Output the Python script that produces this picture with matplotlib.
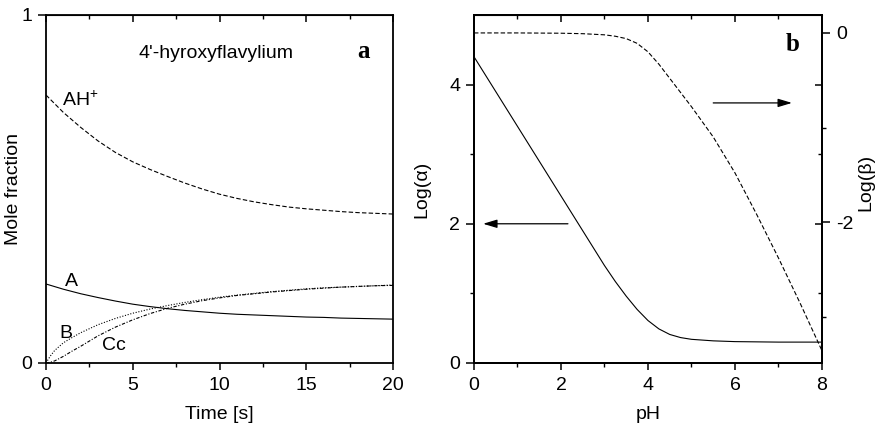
import matplotlib
matplotlib.use('Agg')
import matplotlib.pyplot as plt

plt.rcParams['font.family'] = ['Liberation Sans', 'DejaVu Sans']
plt.rcParams['mathtext.default'] = 'regular'
plt.rcParams['axes.unicode_minus'] = False
plt.rcParams['font.size'] = 14

# panel a: mole fractions vs time
t = [0, 1, 2, 3, 4, 5, 6, 7, 8, 9, 10, 11, 12, 13, 14, 15, 16, 17, 18, 19, 20]
AH = [0.770, 0.720, 0.677, 0.638, 0.605, 0.578, 0.556, 0.536, 0.517, 0.500,
      0.485, 0.473, 0.463, 0.455, 0.448, 0.443, 0.439, 0.435, 0.432, 0.430, 0.428]
A = [0.227, 0.212, 0.199, 0.188, 0.178, 0.169, 0.162, 0.156, 0.151, 0.147,
     0.143, 0.140, 0.138, 0.136, 0.134, 0.132, 0.131, 0.129, 0.128, 0.127, 0.126]
tBC = [0, 0.25, 0.5, 1, 1.5, 2, 3, 4, 5, 6, 7, 8, 9, 10, 11, 12, 13, 14, 15,
       16, 17, 18, 19, 20]
B = [0, 0.020, 0.036, 0.058, 0.073, 0.087, 0.110, 0.128, 0.143, 0.155, 0.165,
     0.174, 0.182, 0.189, 0.195, 0.200, 0.205, 0.209, 0.213, 0.216, 0.218,
     0.220, 0.222, 0.224]
Cc = [0, 0.002, 0.006, 0.019, 0.034, 0.048, 0.078, 0.103, 0.124, 0.142, 0.157,
      0.169, 0.179, 0.187, 0.194, 0.199, 0.204, 0.208, 0.212, 0.215, 0.218,
      0.220, 0.222, 0.223]

# panel b: log(alpha) and log(beta) vs pH
pHa = [0, 0.5, 1, 1.5, 2, 2.5, 2.75, 3, 3.25, 3.5, 3.75, 4, 4.25, 4.5, 4.75,
       5, 5.5, 6, 7, 8]
logAlpha = [4.40, 3.90, 3.40, 2.90, 2.40, 1.90, 1.65, 1.40, 1.17, 0.96, 0.77,
            0.61, 0.49, 0.41, 0.365, 0.34, 0.318, 0.307, 0.30, 0.30]
pHb = [0, 1, 2, 2.5, 3, 3.25, 3.5, 3.75, 4, 4.25, 4.5, 4.75, 5, 5.5, 6, 6.5,
       7, 7.5, 8]
logBeta = [0, 0, -0.003, -0.008, -0.02, -0.035, -0.06, -0.11, -0.20, -0.33,
           -0.48, -0.63, -0.78, -1.10, -1.48, -1.92, -2.38, -2.86, -3.36]

fig = plt.figure(figsize=(8.81, 4.24), dpi=100)
ax1 = fig.add_axes([0.0522, 0.1439, 0.3939, 0.8208])
ax2 = fig.add_axes([0.538, 0.1439, 0.395, 0.8208])

lw = 0.8
for ax in (ax1, ax2):
    for s in ax.spines.values():
        s.set_linewidth(1.3)

# ---- panel a
ax1.plot(t, AH, color='k', lw=lw, ls=(0, (4, 2)))
ax1.plot(t, A, color='k', lw=lw)
ax1.plot(tBC, B, color='k', lw=lw, ls=(0, (1, 1.5)))
ax1.plot(tBC, Cc, color='k', lw=lw, ls=(0, (3, 1.5, 1, 1.5)))
ax1.set_xlim(0, 20)
ax1.set_ylim(0, 1)
ax1.set_xticks([0, 5, 10, 15, 20])
ax1.set_xticks([2.5, 7.5, 12.5, 17.5], minor=True)
ax1.set_yticks([0, 1])
ax1.tick_params(axis='x', which='major', direction='out', length=5, width=1.1, pad=5)
ax1.tick_params(axis='x', which='minor', direction='out', length=3, width=1.0)
ax1.tick_params(axis='y', direction='out', length=6, width=1.1, pad=4)
top1 = ax1.secondary_xaxis('top')
top1.set_xticks([0, 5, 10, 15, 20])
top1.set_xticks([2.5, 7.5, 12.5, 17.5], minor=True)
top1.tick_params(which='major', direction='in', length=5, width=1.1, labeltop=False)
top1.tick_params(which='minor', direction='in', length=3, width=1.0)
ax1.set_xlabel('Time [s]')
ax1.xaxis.set_label_coords(0.5, -0.125)
ax1.set_ylabel('Mole fraction')
ax1.yaxis.set_label_coords(-0.069, 0.5)
ax1.text(0.49, 0.89, "4'-hyroxyflavylium", transform=ax1.transAxes,
         ha='center', va='center')
ax1.text(0.915, 0.895, 'a', transform=ax1.transAxes, ha='center', va='center',
         family='Liberation Serif', fontweight='bold', fontsize=18)
ax1.text(0.9, 0.755, 'AH$^{+}$', ha='left', va='center')
ax1.text(1.1, 0.235, 'A', ha='left', va='center')
ax1.text(0.8, 0.085, 'B', ha='left', va='center')
ax1.text(3.2, 0.05, 'Cc', ha='left', va='center')

# ---- panel b
ax2.plot(pHa, logAlpha, color='k', lw=lw)
ax2.set_xlim(0, 8)
ax2.set_ylim(0, 5)
ax2.set_xticks([0, 2, 4, 6, 8])
ax2.set_xticks([1, 3, 5, 7], minor=True)
ax2.set_yticks([0, 2, 4])
ax2.set_yticks([1, 3], minor=True)
ax2.tick_params(which='major', direction='out', length=5, width=1.1, pad=5)
ax2.tick_params(which='minor', direction='out', length=3, width=1.0)
ax2.tick_params(axis='y', which='major', length=6, pad=4)
top2 = ax2.secondary_xaxis('top')
top2.set_xticks([0, 2, 4, 6, 8])
top2.set_xticks([1, 3, 5, 7], minor=True)
top2.tick_params(which='major', direction='in', length=5, width=1.1, labeltop=False)
top2.tick_params(which='minor', direction='in', length=3, width=1.0)
ax2.set_xlabel('pH')
ax2.xaxis.set_label_coords(0.5, -0.125)
ax2.set_ylabel('Log(α)')
ax2.yaxis.set_label_coords(-0.126, 0.5)

mir = ax2.twinx()
mir.set_ylim(0, 5)
mir.set_yticks([0, 2, 4])
mir.set_yticks([1, 3], minor=True)
mir.tick_params(which='both', direction='in', labelright=False)
mir.tick_params(which='major', length=5, width=1.1)
mir.tick_params(which='minor', length=3, width=1.0)

ax3 = ax2.twinx()
ax3.plot(pHb, logBeta, color='k', lw=lw, ls=(0, (4, 2)))
ax3.set_ylim(-3.49, 0.19)
ax3.set_yticks([0, -2])
ax3.set_yticks([-1, -3], minor=True)
ax3.tick_params(which='major', direction='out', length=6, width=1.1, pad=4)
ax3.tick_params(which='minor', direction='out', length=3, width=1.0)
ax3.set_ylabel('Log(β)')
ax3.yaxis.set_label_coords(1.103, 0.52)
for s in list(mir.spines.values()) + list(ax3.spines.values()):
    s.set_linewidth(1.3)

ax2.annotate('', xy=(0.21, 2.0), xytext=(2.16, 2.0),
             arrowprops=dict(arrowstyle='-|>,head_length=0.6,head_width=0.18',
                             color='k', lw=0.9, shrinkA=0, shrinkB=0))
ax3.annotate('', xy=(7.31, -0.74), xytext=(5.5, -0.74),
             arrowprops=dict(arrowstyle='-|>,head_length=0.6,head_width=0.18',
                             color='k', lw=0.9, shrinkA=0, shrinkB=0))
ax3.text(0.915, 0.915, 'b', transform=ax3.transAxes, ha='center', va='center',
         family='Liberation Serif', fontweight='bold', fontsize=18)

plt.savefig('out.png', dpi=100)
